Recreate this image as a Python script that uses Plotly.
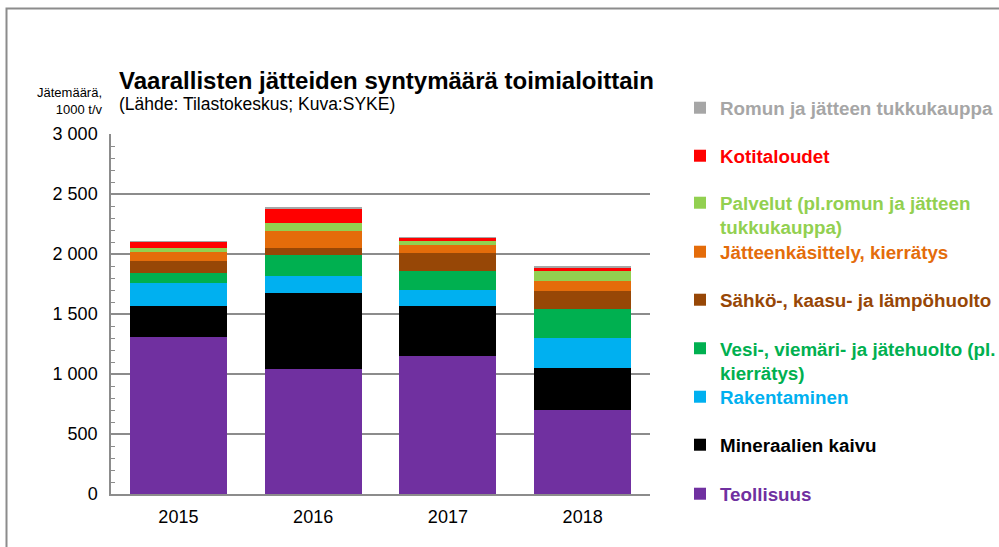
import plotly.graph_objects as go

years = ["2015", "2016", "2017", "2018"]

series_names = [
    "Teollisuus",
    "Mineraalien kaivu",
    "Rakentaminen",
    "Vesi-, viemäri- ja jätehuolto (pl.<br>kierrätys)",
    "Sähkö-, kaasu- ja lämpöhuolto",
    "Jätteenkäsittely, kierrätys",
    "Palvelut (pl.romun ja jätteen<br>tukkukauppa)",
    "Kotitaloudet",
    "Romun ja jätteen tukkukauppa",
]
teollisuus = [1311, 1042, 1153, 700]
mineraalien_kaivu = [256, 630, 414, 347]
rakentaminen = [189, 147, 133, 250]
vesi_viemari = [86, 173, 161, 242]
sahko_kaasu = [100, 55, 145, 155]
jatteenkasittely = [77, 147, 69, 84]
palvelut = [28, 62, 33, 80]
kotitaloudet = [55, 125, 28, 31]
romun_tukkukauppa = [4, 4, 4, 4]

values = [teollisuus, mineraalien_kaivu, rakentaminen, vesi_viemari, sahko_kaasu,
          jatteenkasittely, palvelut, kotitaloudet, romun_tukkukauppa]
colors = ["#7030A0", "#000000", "#00B0F0", "#00B050", "#974706",
          "#E46C0A", "#92D050", "#FF0000", "#A6A6A6"]
# vertical centre (px) of each legend entry, bottom series first
legend_centres = [494, 445, 397, 360.5, 300, 252, 215, 156, 108]

# plot area in pixels: x 111..650, y 134..494
L, R, T, B = 111, 349, 134, 53
W, H = 999, 547
pw, ph = W - L - R, H - T - B

def px(x):
    return (x - L) / pw

def py(y):
    return (H - B - y) / ph

fig = go.Figure()
legends = {}
for i, (name, vals, col, yc) in enumerate(zip(series_names, values, colors, legend_centres)):
    lname = "legend" if i == 0 else f"legend{i + 1}"
    fig.add_trace(go.Bar(
        x=years, y=vals,
        name=f"<b><span style='color:{col}'>{name}</span></b>",
        marker=dict(color=col, line=dict(width=0)),
        legend=lname,
        showlegend=True,
    ))
    legends[lname] = dict(
        x=px(680), y=py(yc), xanchor="left", yanchor="middle",
        font=dict(size=18.8), valign="top", itemwidth=30,
        bgcolor="rgba(0,0,0,0)", borderwidth=0, visible=True,
    )

fig.update_layout(
    width=W, height=H,
    margin=dict(l=L, r=R, t=T, b=B, autoexpand=False),
    showlegend=True,
    barmode="stack",
    bargap=0.28,
    paper_bgcolor="white",
    plot_bgcolor="white",
    font=dict(family="Liberation Sans, Arial, sans-serif", color="#000000"),
    separators=", ",
    xaxis=dict(
        showline=True, linecolor="#8C8C8C", linewidth=1.5,
        ticks="", tickfont=dict(size=18, color="#000000"),
        ticklabelstandoff=6,
    ),
    yaxis=dict(
        range=[0, 3000], tickvals=[0, 500, 1000, 1500, 2000, 2500, 3000],
        tickformat=",.0f",
        showgrid=True, gridcolor="#8C8C8C", gridwidth=1.5,
        showline=True, linecolor="#8C8C8C", linewidth=1.5,
        ticks="inside", ticklen=4, tickcolor="#8C8C8C",
        minor=dict(dtick=100, ticks="inside", ticklen=4, tickcolor="#8C8C8C", showgrid=False),
        tickfont=dict(size=18, color="#000000"),
        ticklabelstandoff=8,
        zeroline=False,
    ),
    annotations=[
        dict(text="<b>Vaarallisten jätteiden syntymäärä toimialoittain</b>",
             xref="paper", yref="paper", x=px(117), y=py(80), xanchor="left", yanchor="middle",
             showarrow=False, font=dict(size=24, color="#000000")),
        dict(text="(Lähde: Tilastokeskus; Kuva:SYKE)",
             xref="paper", yref="paper", x=px(117), y=py(104), xanchor="left", yanchor="middle",
             showarrow=False, font=dict(size=17.5, color="#000000")),
        dict(text="Jätemäärä,<br>1000 t/v", align="right",
             xref="paper", yref="paper", x=px(105), y=py(101), xanchor="right", yanchor="middle",
             showarrow=False, font=dict(size=13, color="#000000")),
    ],
    shapes=[
        dict(type="path", xref="paper", yref="paper",
             path=f"M {px(6.5)} {py(560)} L {px(6.5)} {py(8.5)} L {px(1010)} {py(8.5)}",
             line=dict(color="#8C8C8C", width=2)),
    ],
    **legends,
)

fig.write_html("out.html", config={"displayModeBar": False},
               post_script="document.body.style.margin='0';")
